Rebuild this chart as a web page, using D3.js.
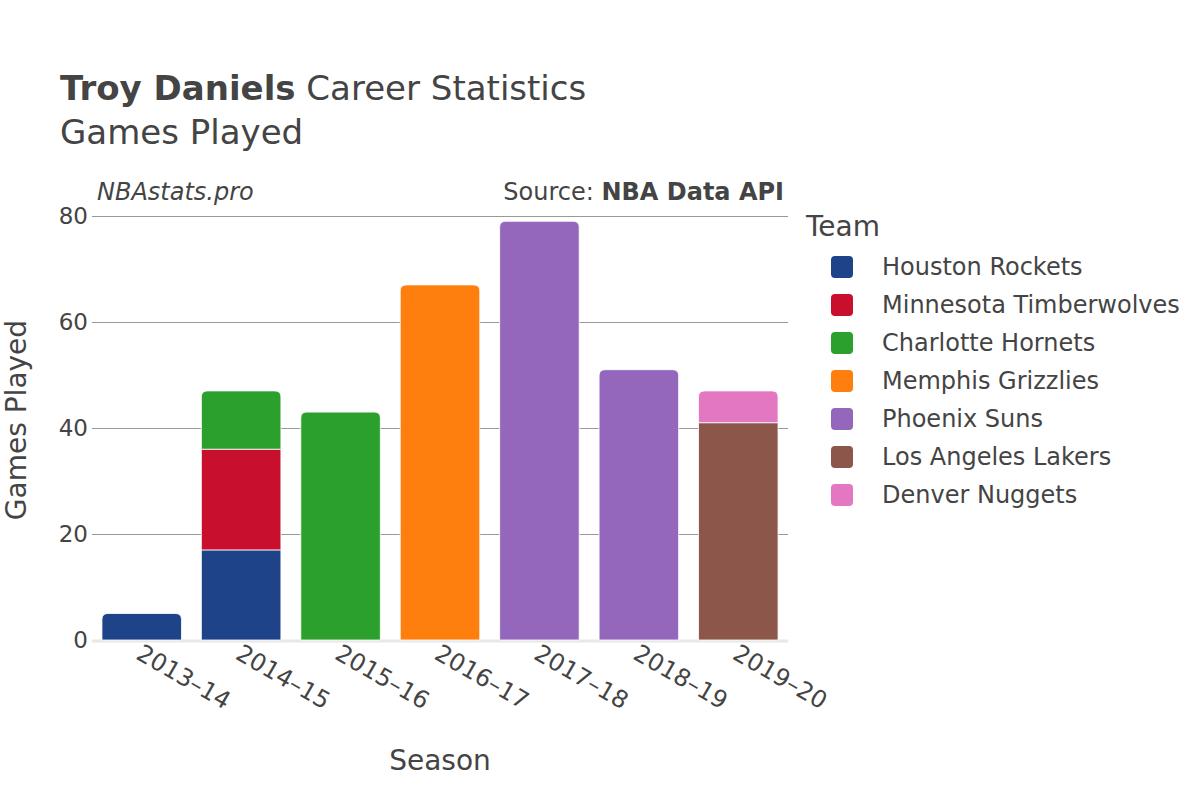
<!DOCTYPE html>
<html><head><meta charset="utf-8">
<script src="https://cdn.jsdelivr.net/npm/d3@7"></script>
<style>body{margin:0;background:#fff;} svg{font-family:"DejaVu Sans",sans-serif;}</style>
</head><body>
<svg id="c" width="1200" height="800"></svg>
<script>
const seasons = ["2013–14","2014–15","2015–16","2016–17","2017–18","2018–19","2019–20"];
const teams = ["Houston Rockets","Minnesota Timberwolves","Charlotte Hornets","Memphis Grizzlies","Phoenix Suns","Los Angeles Lakers","Denver Nuggets"];
const teamColors = ["#1f4389","#c8102e","#2ca02c","#ff7f0e","#9467bd","#8c564b","#e377c2"];
// games per team per season (order of seasons)
const houston   = [5,17,0,0,0,0,0];
const minnesota = [0,19,0,0,0,0,0];
const charlotte = [0,11,43,0,0,0,0];
const memphis   = [0,0,0,67,0,0,0];
const phoenix   = [0,0,0,0,79,51,0];
const lakers    = [0,0,0,0,0,0,41];
const denver    = [0,0,0,0,0,0,6];
const yTicks = [0,20,40,60,80];

const series = [houston,minnesota,charlotte,memphis,phoenix,lakers,denver];
const svg = d3.select("#c");
const W = 1200, H = 800;
const m = {l:92, r:412, t:216, b:160};
const x = d3.scaleBand().domain(seasons).range([m.l, W-m.r]).paddingInner(0.2).paddingOuter(0.1);
const y = d3.scaleLinear().domain([0,80]).range([H-m.b, m.t]);
const color = d3.scaleOrdinal().domain(teams).range(teamColors);

// grid
svg.append("g").selectAll("line").data(yTicks.filter(d=>d>0)).join("line")
  .attr("x1",m.l).attr("x2",W-m.r).attr("y1",d=>Math.round(y(d))+0.5).attr("y2",d=>Math.round(y(d))+0.5)
  .attr("stroke","#999").attr("stroke-width",1);
svg.append("line").attr("x1",m.l).attr("x2",W-m.r).attr("y1",y(0)+1).attr("y2",y(0)+1)
  .attr("stroke","#e8e8e8").attr("stroke-width",3);

// y tick labels
const ya = d3.axisLeft(y).tickValues(yTicks).tickSize(0).tickPadding(4);
const gy = svg.append("g").attr("transform",`translate(${m.l},0)`).call(ya);
gy.select(".domain").remove();
gy.selectAll("text").attr("font-size",23).attr("fill","#444").attr("font-family","DejaVu Sans");

// bars
const data = seasons.map((s,i)=>{
  let acc=0; const segs=[];
  teams.forEach((t,j)=>{ const v=series[j][i]; if(v>0){segs.push({s,t,y0:acc,y1:acc+v}); acc+=v;} });
  if(segs.length) segs[segs.length-1].top=true;
  return segs;
}).flat();
const r = 6;
function segPath(d){
  const x0=x(d.s), x1=x0+x.bandwidth(), yt=y(d.y1), yb=y(d.y0);
  if(!d.top) return `M${x0},${yb}V${yt}H${x1}V${yb}Z`;
  return `M${x0},${yb}V${yt+r}Q${x0},${yt} ${x0+r},${yt}H${x1-r}Q${x1},${yt} ${x1},${yt+r}V${yb}Z`;
}
svg.append("g").selectAll("path").data(data).join("path")
  .attr("d",segPath).attr("fill",d=>color(d.t)).attr("stroke","#fff").attr("stroke-width",0.8);

// x labels
const xa = d3.axisBottom(x).tickSize(0).tickPadding(0);
const gx = svg.append("g").attr("transform",`translate(0,${y(0)})`).call(xa);
gx.select(".domain").remove();
gx.selectAll("text").attr("font-size",24).attr("fill","#444").attr("font-family","DejaVu Sans")
  .attr("text-anchor","start").attr("dy",0).attr("transform","translate(-7,18) rotate(30)");

// titles
const t = svg.append("text").attr("x",60).attr("y",100).attr("font-size",34).attr("fill","#444");
t.append("tspan").attr("font-weight","bold").text("Troy Daniels");
t.append("tspan").text(" Career Statistics");
svg.append("text").attr("x",60).attr("y",144).attr("font-size",34).attr("fill","#444").text("Games Played");
svg.append("text").attr("x",97).attr("y",200).attr("font-size",24).attr("font-style","italic").attr("fill","#444").text("NBAstats.pro");
const src = svg.append("text").attr("x",784).attr("y",200).attr("font-size",24).attr("fill","#444").attr("text-anchor","end");
src.append("tspan").text("Source: ");
src.append("tspan").attr("font-weight","bold").text("NBA Data API");

svg.append("text").attr("x",440).attr("y",770).attr("font-size",28).attr("fill","#444").attr("text-anchor","middle").text("Season");
svg.append("text").attr("transform","translate(26,420) rotate(-90)").attr("font-size",28).attr("fill","#444").attr("text-anchor","middle").text("Games Played");

// legend
svg.append("text").attr("x",806).attr("y",236).attr("font-size",28).attr("fill","#444").text("Team");
const lg = svg.append("g").selectAll("g").data(teams).join("g").attr("transform",(d,i)=>`translate(831,${267+i*38})`);
lg.append("rect").attr("x",0).attr("y",-11).attr("width",22).attr("height",22).attr("rx",4).attr("fill",d=>color(d));
lg.append("text").attr("x",51).attr("y",8).attr("font-size",24).attr("fill","#444").text(d=>d);
</script>
</body></html>
